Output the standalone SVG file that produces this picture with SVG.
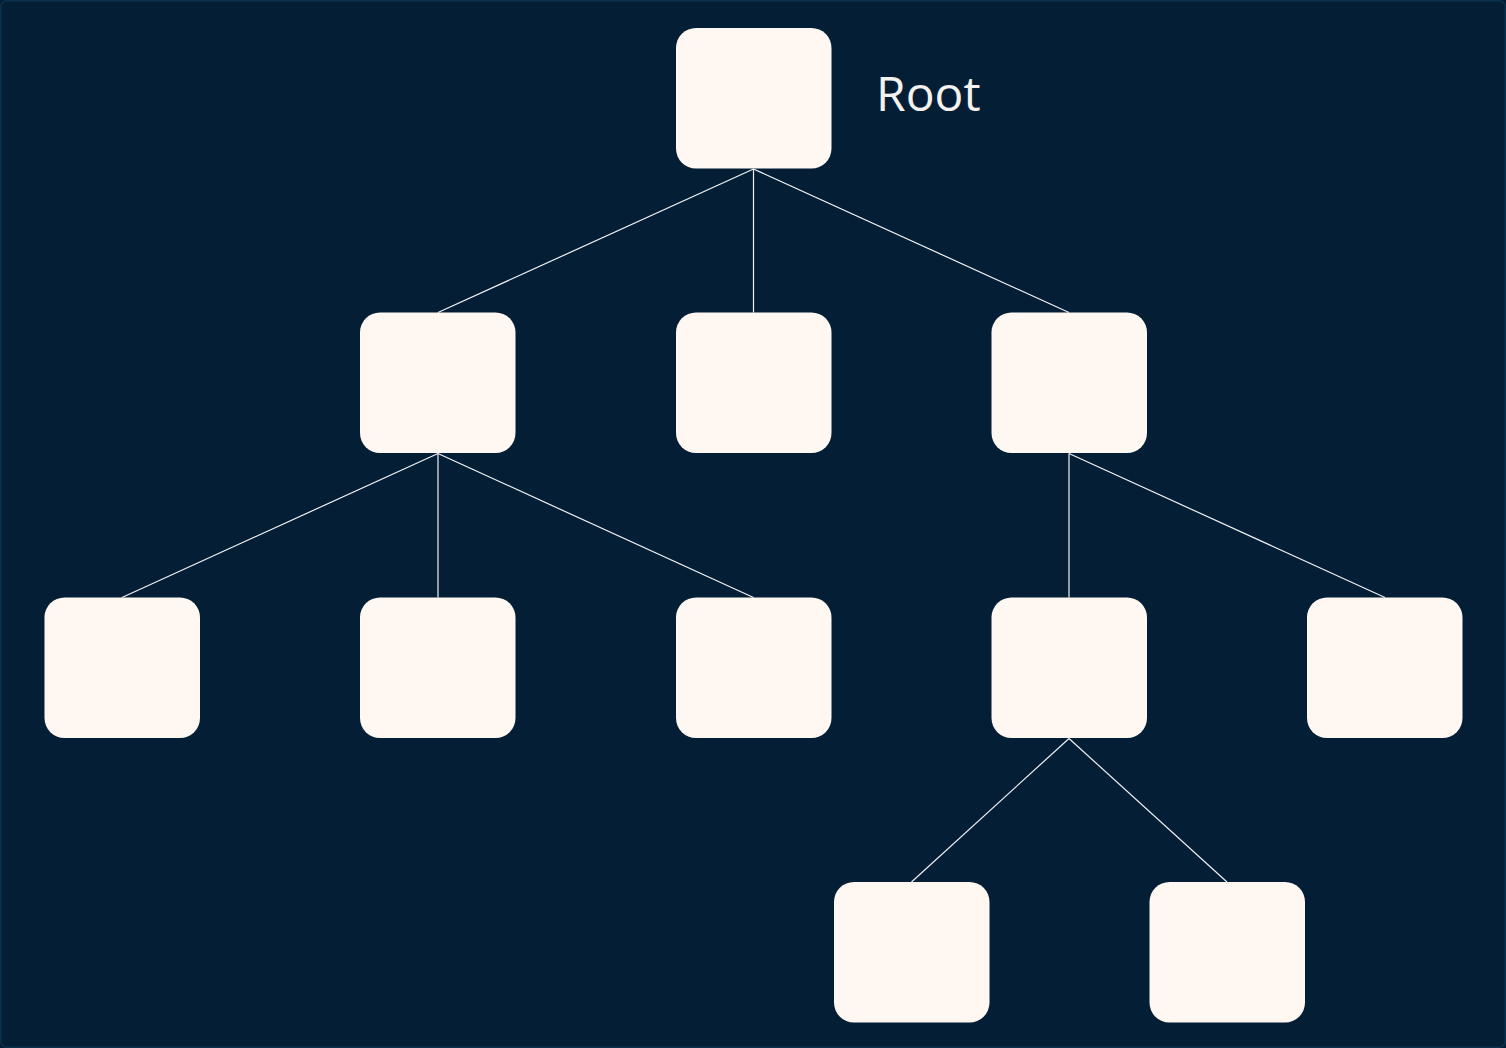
<svg xmlns="http://www.w3.org/2000/svg" width="1506" height="1048" viewBox="0 0 1506 1048">
<style>
.n{fill:#fef7f2}
.e{stroke:#f0f2f4;stroke-width:1.2;fill:none}
.t{font-family:"Open Sans","Noto Sans",sans-serif;font-size:48px;fill:#f4f1ee}
</style>
<rect x="0" y="0" width="1506" height="1048" fill="#041f35"/>
<rect x="0.75" y="0.75" width="1504.5" height="1046.5" rx="6" fill="none" stroke="#0a3150" stroke-width="1.5"/>
<g id="connectors">
<line class="e" x1="753.5" y1="169" x2="438" y2="312.5"/>
<line class="e" x1="753.5" y1="169" x2="753.5" y2="312.5"/>
<line class="e" x1="753.5" y1="169" x2="1069" y2="312.5"/>
<line class="e" x1="438" y1="453.5" x2="122" y2="597.5"/>
<line class="e" x1="438" y1="453.5" x2="438" y2="597.5"/>
<line class="e" x1="438" y1="453.5" x2="753.5" y2="597.5"/>
<line class="e" x1="1069" y1="453.5" x2="1069" y2="597.5"/>
<line class="e" x1="1069" y1="453.5" x2="1385" y2="597.5"/>
<line class="e" x1="1069" y1="738.5" x2="911.5" y2="882"/>
<line class="e" x1="1069" y1="738.5" x2="1227" y2="882"/>
</g>
<g id="root"><rect class="n" x="676" y="28" width="155.5" height="140.5" rx="20"/></g>
<g id="n1"><rect class="n" x="360" y="312.5" width="155.5" height="140.5" rx="20"/></g>
<g id="n2"><rect class="n" x="676" y="312.5" width="155.5" height="140.5" rx="20"/></g>
<g id="n3"><rect class="n" x="991.5" y="312.5" width="155.5" height="140.5" rx="20"/></g>
<g id="n4"><rect class="n" x="44.5" y="597.5" width="155.5" height="140.5" rx="20"/></g>
<g id="n5"><rect class="n" x="360" y="597.5" width="155.5" height="140.5" rx="20"/></g>
<g id="n6"><rect class="n" x="676" y="597.5" width="155.5" height="140.5" rx="20"/></g>
<g id="n7"><rect class="n" x="991.5" y="597.5" width="155.5" height="140.5" rx="20"/></g>
<g id="n8"><rect class="n" x="1307" y="597.5" width="155.5" height="140.5" rx="20"/></g>
<g id="n9"><rect class="n" x="834" y="882" width="155.5" height="140.5" rx="20"/></g>
<g id="n10"><rect class="n" x="1149.5" y="882" width="155.5" height="140.5" rx="20"/></g>
<text class="t" x="876" y="110.5">Root</text>
</svg>
